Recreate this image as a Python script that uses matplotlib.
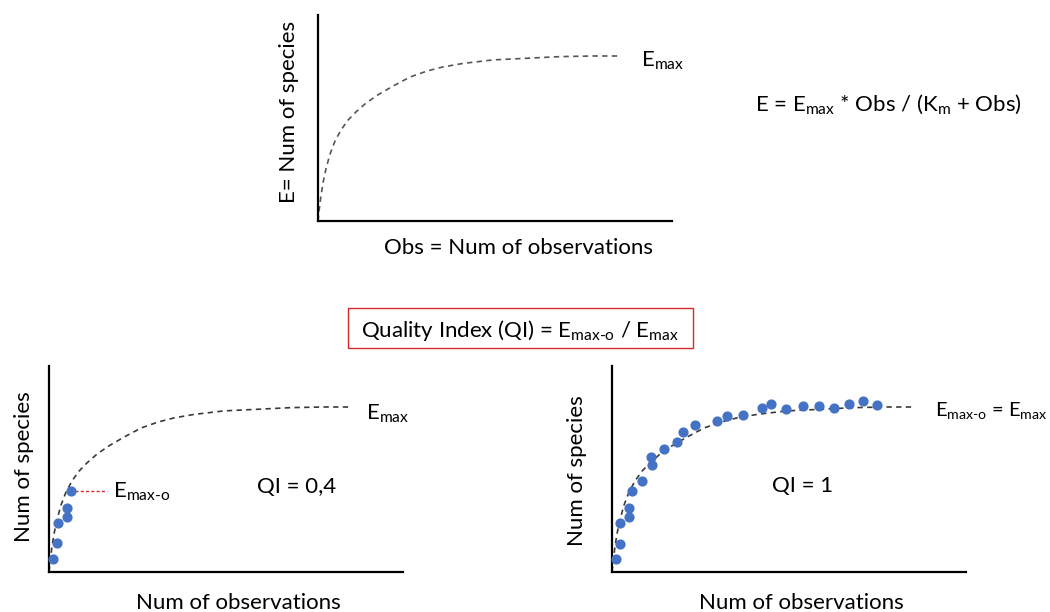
import matplotlib

matplotlib.use("Agg")
import matplotlib.pyplot as plt
from matplotlib.patches import Rectangle

plt.rcParams["font.family"] = ["Lato", "DejaVu Sans"]
plt.rcParams["mathtext.fontset"] = "custom"
plt.rcParams["mathtext.rm"] = "Lato"
plt.rcParams["mathtext.it"] = "Lato:italic"

# model curve (same curve in all three panels)
curve_x = [0, 0.003, 0.008, 0.014, 0.023, 0.034, 0.048, 0.065, 0.085, 0.107,
           0.136, 0.169, 0.212, 0.260, 0.308, 0.353, 0.410, 0.494, 0.590,
           0.684, 0.777, 0.856]
curve_y = [0, 0.049, 0.117, 0.184, 0.257, 0.325, 0.388, 0.442, 0.490, 0.529,
           0.573, 0.612, 0.655, 0.699, 0.728, 0.748, 0.765, 0.782, 0.790,
           0.798, 0.801, 0.801]

# observed points, QI = 0,4 panel
obs_left_x = [0.011, 0.023, 0.025, 0.051, 0.051, 0.062]
obs_left_y = [0.063, 0.141, 0.239, 0.268, 0.312, 0.395]

# observed points, QI = 1 panel
obs_right_x = [0.011, 0.023, 0.023, 0.049, 0.049, 0.056, 0.084, 0.112, 0.110,
               0.147, 0.185, 0.200, 0.235, 0.296, 0.326, 0.371, 0.424, 0.448,
               0.492, 0.539, 0.586, 0.627, 0.670, 0.708, 0.750]
obs_right_y = [0.062, 0.138, 0.239, 0.267, 0.312, 0.392, 0.443, 0.517, 0.556,
               0.597, 0.633, 0.678, 0.716, 0.735, 0.756, 0.761, 0.798, 0.815,
               0.792, 0.806, 0.806, 0.798, 0.815, 0.829, 0.810]

emax_o_left = 0.395

W, H = 1050, 612
FS = 16
DOT = "#4472C4"
CURVE = "#3a3a3a"


def fx(x):
    return x / W


def fy(y):
    return 1 - y / H


def make_axes(fig, left, top):
    # left/top are pixel coords of the axes corner
    ax = fig.add_axes([fx(left), fy(top + 206), 354 / W, 206 / H])
    ax.set_xlim(0, 1)
    ax.set_ylim(0, 1)
    ax.spines["top"].set_visible(False)
    ax.spines["right"].set_visible(False)
    ax.spines["left"].set_linewidth(1.6)
    ax.spines["bottom"].set_linewidth(1.6)
    ax.set_xticks([])
    ax.set_yticks([])
    ax.patch.set_alpha(0)
    return ax


def draw_curve(ax, color=CURVE):
    ax.plot(curve_x, curve_y, color=color, lw=1.2, dashes=(3.2, 2.6),
            solid_joinstyle="round", clip_on=False)


fig = plt.figure(figsize=(10.5, 6.12), dpi=100)

# top panel
ax0 = make_axes(fig, 318, 15)
draw_curve(ax0, "#555555")
ax0.text(0.912, 0.748, r"E$_{\mathrm{max}}$", fontsize=FS, va="baseline")
fig.text(fx(289), fy(112), "E= Num of species", rotation=90,
         ha="center", va="center", fontsize=FS)
fig.text(fx(519), fy(248), "Obs = Num of observations",
         ha="center", va="center", fontsize=FS)
fig.text(fx(888), fy(111),
         r"E = E$_{\mathrm{max}}$ * Obs / (K$_{\mathrm{m}}$ + Obs)",
         ha="center", va="baseline", fontsize=FS)

# QI box
fig.patches.append(Rectangle((fx(348), fy(348)), fx(693) - fx(348),
                             fy(308) - fy(348), transform=fig.transFigure,
                             fill=False, edgecolor="#D42A2A", lw=1.0))
fig.text(fx(520), fy(337),
         r"Quality Index (QI) = E$_{\text{max-o}}$ / E$_{\mathrm{max}}$",
         ha="center", va="baseline", fontsize=FS)

# bottom left panel
ax1 = make_axes(fig, 49, 366)
draw_curve(ax1)
ax1.plot([0.073, 0.163], [emax_o_left, emax_o_left], color="#D42A2A",
         lw=1.0, dashes=(2.2, 1.6))
ax1.scatter(obs_left_x, obs_left_y, s=40, color=DOT, zorder=3, clip_on=False)
ax1.text(0.895, 0.741, r"E$_{\mathrm{max}}$", fontsize=FS, va="baseline")
ax1.text(0.182, 0.361, r"E$_{\text{max-o}}$", fontsize=FS, va="baseline")
ax1.text(0.698, 0.385, "QI = 0,4", fontsize=FS, ha="center", va="baseline")
fig.text(fx(24), fy(467), "Num of species", rotation=90,
         ha="center", va="center", fontsize=FS)
fig.text(fx(238), fy(603), "Num of observations",
         ha="center", va="center", fontsize=FS)

# bottom right panel
ax2 = make_axes(fig, 612, 366)
draw_curve(ax2)
ax2.scatter(obs_right_x, obs_right_y, s=40, color=DOT, zorder=3, clip_on=False)
ax2.text(0.912, 0.756, r"E$_{\text{max-o}}$ = E$_{\mathrm{max}}$",
         fontsize=14.5, va="baseline")
ax2.text(0.537, 0.39, "QI = 1", fontsize=FS, ha="center", va="baseline")
fig.text(fx(577), fy(471), "Num of species", rotation=90,
         ha="center", va="center", fontsize=FS)
fig.text(fx(801), fy(603), "Num of observations",
         ha="center", va="center", fontsize=FS)

fig.savefig("out.png", dpi=100)
